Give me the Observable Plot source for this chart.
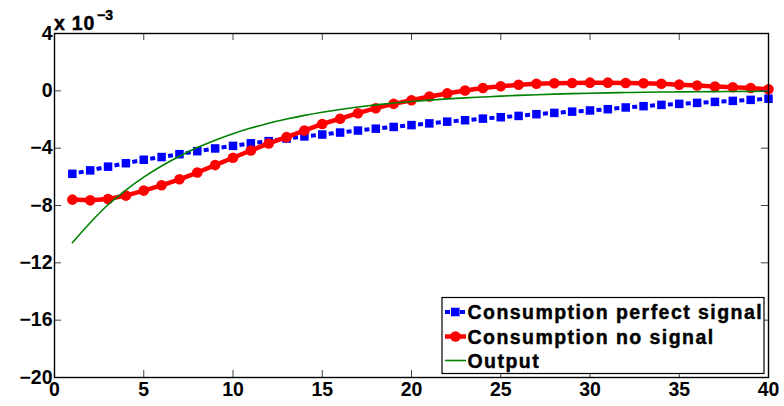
<!DOCTYPE html>
<html><head><meta charset="utf-8">
<script src="https://cdn.jsdelivr.net/npm/d3@7"></script>
<script src="https://cdn.jsdelivr.net/npm/@observablehq/plot@0.6"></script>
<style>
body{margin:0;background:#fff;}
#chart{position:relative;width:784px;height:406px;}
</style>
</head><body><div id="chart"></div>
<script>
// Horizon (periods)
const periods = [1,2,3,4,5,6,7,8,9,10,11,12,13,14,15,16,17,18,19,20,21,22,23,24,25,26,27,28,29,30,31,32,33,34,35,36,37,38,39,40];
// Values in units of 10^-3
const perfectSignal = [-5.79,-5.55,-5.29,-5.05,-4.81,-4.62,-4.42,-4.21,-4.02,-3.84,-3.66,-3.51,-3.33,-3.18,-3.05,-2.91,-2.77,-2.64,-2.52,-2.39,-2.27,-2.15,-2.05,-1.94,-1.84,-1.75,-1.63,-1.54,-1.45,-1.37,-1.28,-1.16,-1.07,-0.98,-0.91,-0.84,-0.77,-0.70,-0.63,-0.55];
const noSignal = [-7.59,-7.64,-7.55,-7.31,-6.96,-6.59,-6.17,-5.70,-5.18,-4.67,-4.16,-3.67,-3.23,-2.77,-2.31,-1.95,-1.56,-1.21,-0.91,-0.66,-0.40,-0.18,0.02,0.20,0.32,0.42,0.49,0.53,0.55,0.57,0.57,0.55,0.53,0.49,0.43,0.37,0.30,0.25,0.20,0.11];
const output = [-10.6,-9.2,-7.95,-6.92,-6.02,-5.24,-4.56,-3.96,-3.44,-2.99,-2.60,-2.26,-1.97,-1.71,-1.49,-1.30,-1.13,-0.98,-0.85,-0.74,-0.645,-0.56,-0.49,-0.43,-0.37,-0.315,-0.27,-0.23,-0.195,-0.165,-0.14,-0.12,-0.10,-0.085,-0.073,-0.062,-0.053,-0.045,-0.038,-0.032];
const xTicks = [0,5,10,15,20,25,30,35,40];
const yTicks = [4,0,-4,-8,-12,-16,-20];
const seriesNames = ["Consumption perfect signal","Consumption no signal","Output"];
const exponentBase = "x 10";
const exponentPower = "\u22123";

const W = 784, H = 406, mL = 54, mR = 16, mT = 33, mB = 29;
const innerW = W - mL - mR, innerH = H - mT - mB;
const BLUE = "#0000ff", RED = "#ff0000", GREEN = "#008000";
const FONT = "'Liberation Sans', Arial, sans-serif";

const mk = arr => periods.map((t, i) => ({t, v: arr[i]}));
const blueData = mk(perfectSignal), redData = mk(noSignal), greenData = mk(output);
const blueSegs = periods.slice(1).map((t, i) => ({x1: periods[i], y1: perfectSignal[i], x2: t, y2: perfectSignal[i + 1]}));
const fmt = d => d < 0 ? "\u2212" + (-d) : String(d);
const textOpts = {fontSize: 19.5, fontWeight: "bold", fontFamily: FONT, fill: "black", stroke: "black", strokeWidth: 0.45};

const plot = Plot.plot({
  width: W, height: H,
  marginLeft: mL, marginRight: mR, marginTop: mT, marginBottom: mB,
  style: {fontFamily: FONT, fontSize: "19.5px", color: "black", background: "white", overflow: "visible"},
  x: {domain: [0, 40]},
  y: {domain: [-20, 4]},
  marks: [
    Plot.link(blueSegs, {x1: "x1", y1: "y1", x2: "x2", y2: "y2", stroke: BLUE, strokeWidth: 4, strokeDasharray: "0 6.5 5 100", strokeLinecap: "butt"}),
    Plot.dot(blueData, {x: "t", y: "v", symbol: "square", r: 4.8, fill: BLUE, stroke: "none"}),
    Plot.line(redData, {x: "t", y: "v", stroke: RED, strokeWidth: 4.5}),
    Plot.dot(redData, {x: "t", y: "v", r: 5.3, fill: RED, stroke: "none"}),
    Plot.line(greenData, {x: "t", y: "v", stroke: GREEN, strokeWidth: 1.6, curve: "monotone-x"}),
    Plot.tickX(xTicks, {x: d => d, stroke: "#444", strokeWidth: 1, insetTop: innerH - 7}),
    Plot.tickX(xTicks, {x: d => d, stroke: "#444", strokeWidth: 1, insetBottom: innerH - 7}),
    Plot.tickY(yTicks, {y: d => d, stroke: "#444", strokeWidth: 1, insetRight: innerW - 7}),
    Plot.tickY(yTicks, {y: d => d, stroke: "#444", strokeWidth: 1, insetLeft: innerW - 7}),
    Plot.frame({stroke: "black", strokeWidth: 1.4}),
    Plot.axisX({ticks: xTicks, tickSize: 0, tickPadding: 5, tickFormat: d => String(d), label: null, ...textOpts}),
    Plot.axisY({ticks: yTicks, tickSize: 0, tickPadding: 2, tickFormat: fmt, label: null, ...textOpts})
  ]
});
document.getElementById("chart").appendChild(plot);

const svg = d3.select(plot);
const styleText = sel => sel.attr("font-family", FONT).attr("font-weight", "bold").attr("fill", "black")
  .attr("stroke", "black").attr("stroke-width", 0.45).attr("text-anchor", "start");
// exponent label
styleText(svg.append("text").attr("x", 54).attr("y", 30).text(exponentBase)
  .attr("font-size", "19.5px").attr("letter-spacing", "0.8px"));
styleText(svg.append("text").attr("x", 97).attr("y", 20).text(exponentPower)
  .attr("font-size", "14px"));

// legend
const lg = svg.append("g");
lg.append("rect").attr("x", 442).attr("y", 297.5).attr("width", 322).attr("height", 76)
  .attr("fill", "white").attr("stroke", "black").attr("stroke-width", 1.2);
const rowY = [312, 336.5, 360.5];
rowY.forEach((y, i) => {
  const color = [BLUE, RED, GREEN][i];
  if (i === 0) {
    lg.append("line").attr("x1", 445).attr("x2", 466).attr("y1", y).attr("y2", y)
      .attr("stroke", color).attr("stroke-width", 4).attr("stroke-dasharray", "5 3.5 3 3.5 5 10");
    lg.append("rect").attr("x", 451).attr("y", y - 4.3).attr("width", 8.6).attr("height", 8.6).attr("fill", color);
  } else if (i === 1) {
    lg.append("line").attr("x1", 445).attr("x2", 466).attr("y1", y).attr("y2", y)
      .attr("stroke", color).attr("stroke-width", 4.5);
    lg.append("circle").attr("cx", 455.5).attr("cy", y).attr("r", 5.3).attr("fill", color);
  } else {
    lg.append("line").attr("x1", 445).attr("x2", 466).attr("y1", y).attr("y2", y)
      .attr("stroke", color).attr("stroke-width", 1.6);
  }
  styleText(lg.append("text").attr("x", 467.5).attr("y", y + 7).text(seriesNames[i])
    .attr("font-size", "19.5px").attr("letter-spacing", "1.45px"));
});
</script>
</body></html>
